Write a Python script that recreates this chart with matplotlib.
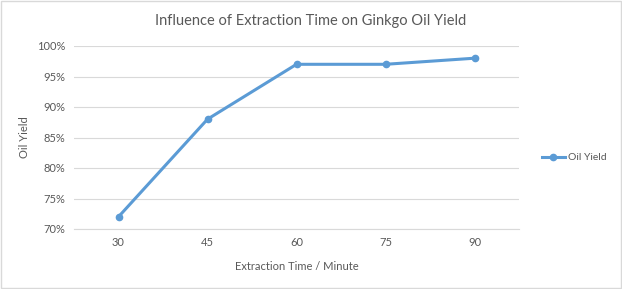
import matplotlib.pyplot as plt
from matplotlib.ticker import FuncFormatter

# data
times = ["30", "45", "60", "75", "90"]
oil_yield = [0.72, 0.88, 0.97, 0.97, 0.98]

plt.rcParams['font.family'] = ['Lato', 'DejaVu Sans']
txt = '#595959'
blue = '#5B9BD5'

fig = plt.figure(figsize=(6.22, 2.89), dpi=100)
ax = fig.add_axes([74/622, 1 - 229/289, 445/622, 183/289])

x = range(len(times))
ax.plot(x, oil_yield, color=blue, lw=2.2, marker='o', ms=4.5, label='Oil Yield')

ax.set_xlim(-0.5, len(times) - 0.5)
ax.set_ylim(0.70, 1.00)
ax.set_yticks([0.70, 0.75, 0.80, 0.85, 0.90, 0.95, 1.00])
ax.yaxis.set_major_formatter(FuncFormatter(lambda v, p: f"{v*100:.0f}%"))
ax.set_xticks(list(x))
ax.set_xticklabels(times)

ax.grid(axis='y', color='#D9D9D9', lw=0.8)
ax.set_axisbelow(True)
for s in ['top', 'right', 'left']:
    ax.spines[s].set_visible(False)
ax.spines['bottom'].set_color('#D9D9D9')
ax.tick_params(length=0, labelsize=8, colors=txt, pad=6)

ax.set_xlabel('Extraction Time / Minute', fontsize=8, color=txt, labelpad=9)
ax.set_ylabel('Oil Yield', fontsize=8, color=txt, labelpad=5)
fig.suptitle('Influence of Extraction Time on Ginkgo Oil Yield', fontsize=10.5, color=txt, y=0.95)

ax.legend(loc='center left', bbox_to_anchor=(1.03, 0.39), frameon=False, fontsize=7.5,
          labelcolor=txt, handlelength=2.2, handletextpad=0.3)

fig.patches.append(plt.Rectangle((0.002, 0.003), 0.996, 0.994, transform=fig.transFigure,
                                 fill=False, edgecolor='#D9D9D9', lw=1))

fig.savefig('out.png', dpi=100, facecolor='white')
